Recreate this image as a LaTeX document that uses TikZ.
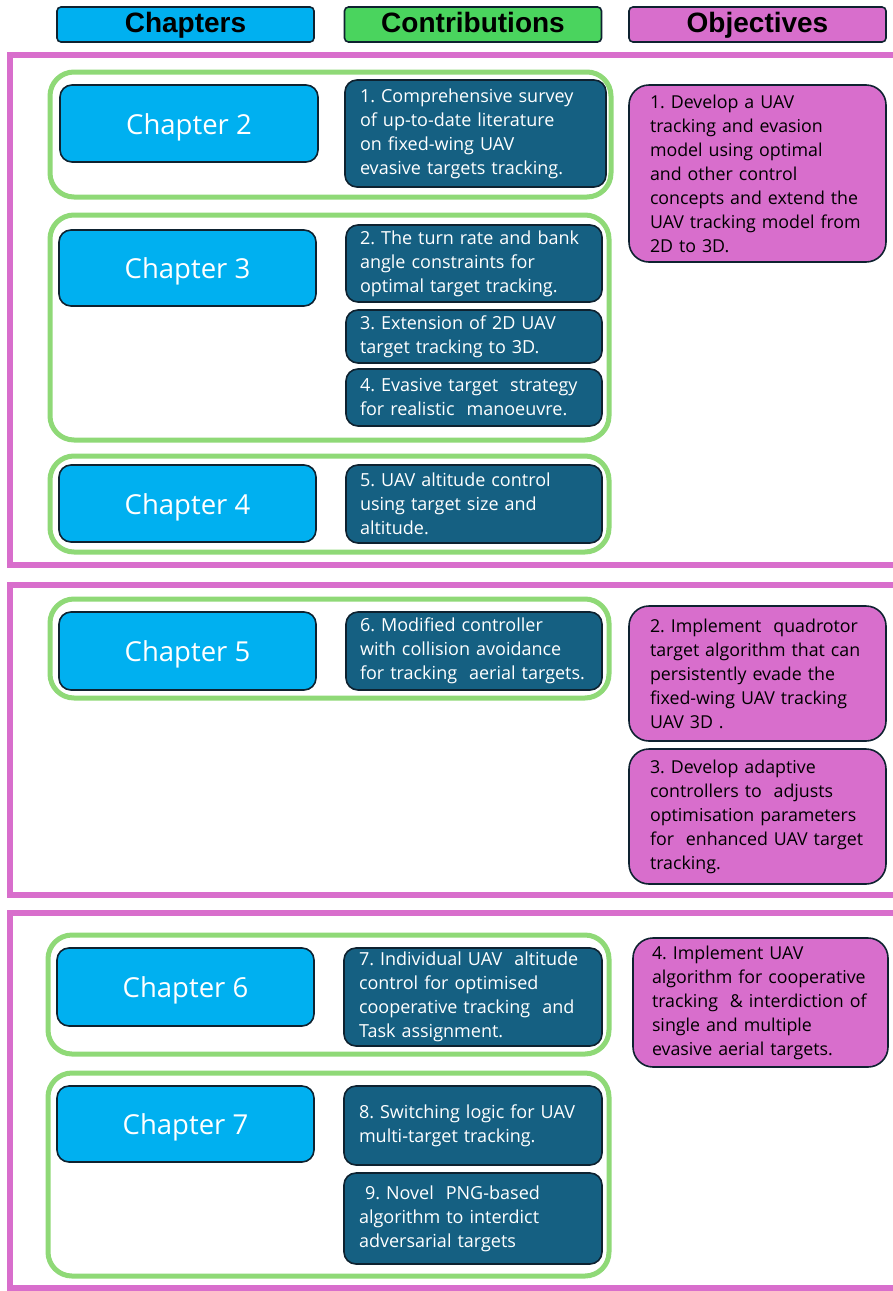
\documentclass[tikz,border=0pt]{standalone}
\usepackage{fontspec}
\setmainfont{Open Sans}
\newfontfamily\hdrfont{Liberation Sans}
\frenchspacing
\hyphenpenalty=10000
\exhyphenpenalty=10000
\definecolor{framepink}{HTML}{D86ECC}
\definecolor{grpgreen}{HTML}{8FD977}
\definecolor{chapcyan}{HTML}{00B0F0}
\definecolor{contteal}{HTML}{156082}
\definecolor{hdrgreen}{HTML}{4AD45E}
\definecolor{edgenavy}{HTML}{0E2230}
\tikzset{
  hdr/.style={draw=edgenavy, line width=1.6pt, rounded corners=4pt, inner sep=0pt,
    minimum width=257pt, minimum height=35pt, text height=20pt, text depth=5pt,
    font=\hdrfont\bfseries\fontsize{28}{30}\selectfont, text=black},
  secframe/.style={draw=framepink, line width=5.5pt, inner sep=0pt},
  grp/.style={draw=grpgreen, line width=5pt, rounded corners=24pt, inner sep=0pt},
  chap/.style={draw=edgenavy, line width=1.6pt, fill=chapcyan, rounded corners=12pt,
    inner sep=0pt, minimum width=257pt, minimum height=77pt, text=white,
    text height=21pt, text depth=0pt,
    font=\fontsize{27.5}{30}\selectfont},
  contrib/.style={draw=edgenavy, line width=1.6pt, fill=contteal, rounded corners=12pt,
    inner xsep=15pt, inner ysep=0pt, text width=227pt, align=left, text=white,
    font=\fontsize{18}{24}\selectfont},
  objective/.style={draw=edgenavy, line width=1.6pt, fill=framepink, rounded corners=20pt,
    inner xsep=21pt, inner ysep=0pt, text width=215pt, align=left, text=black,
    font=\fontsize{17.8}{24}\selectfont},
}
\begin{document}
\begin{tikzpicture}[x=1pt,y=-1pt]
\useasboundingbox (0,0) rectangle (893,1291);
\fill[white] (0,0) rectangle (893,1291);

% column headers
\node[hdr, fill=chapcyan] (hchap) at (185.5,24.5) {Chapters};
\node[hdr, fill=hdrgreen] (hcont) at (473,24.5) {Contributions};
\node[hdr, fill=framepink] (hobj) at (757.5,24.5) {Objectives};

% section frames (open to the right edge)
\begin{scope}
\clip (0,0) rectangle (893,1291);
\node[secframe, minimum width=900pt, minimum height=510pt] (sec1) at (460,310) {};
\node[secframe, minimum width=900pt, minimum height=310pt] (sec2) at (460,740) {};
\node[secframe, minimum width=900pt, minimum height=375pt] (sec3) at (460,1100.5) {};
\end{scope}

% chapter groups
\node[grp, minimum width=561pt, minimum height=125pt] (g1) at (330.5,134.5) {};
\node[grp, minimum width=559pt, minimum height=225pt] (g2) at (329.5,327.5) {};
\node[grp, minimum width=559pt, minimum height=96pt] (g3) at (329.5,504) {};
\node[grp, minimum width=559pt, minimum height=99pt] (g4) at (329.5,648.5) {};
\node[grp, minimum width=561pt, minimum height=119pt] (g5) at (328.5,994.5) {};
\node[grp, minimum width=561pt, minimum height=203pt] (g6) at (328.5,1174.5) {};

% chapters
\node[chap, minimum width=258pt] (c2) at (189,123.5) {Chapter 2};
\node[chap, minimum height=76pt] (c3) at (187.5,268) {Chapter 3};
\node[chap] (c4) at (187.5,503.5) {Chapter 4};
\node[chap, minimum height=78pt] (c5) at (187.5,651) {Chapter 5};
\node[chap, minimum height=78pt] (c6) at (185.5,987) {Chapter 6};
\node[chap, minimum height=76pt] (c7) at (185.5,1124) {Chapter 7};

% contributions
\node[contrib, text width=231pt, minimum height=107pt] (k1) at (475.5,133.5)
  {1. Comprehensive survey\\of up-to-date literature\\on fixed-wing UAV\\evasive targets tracking.};
\node[contrib, text width=228pt, inner xsep=14pt, minimum height=77pt] (k2) at (474,263.5)
  {2. The turn rate and bank\\angle constraints for\\optimal target tracking.};
\node[contrib, text width=228pt, inner xsep=14pt, minimum height=53pt] (k3) at (474,336.5)
  {3. Extension of 2D UAV\\target tracking to 3D.};
\node[contrib, text width=228pt, inner xsep=14pt, minimum height=57pt] (k4) at (474,397.5)
  {4. Evasive target\ \ strategy\\for realistic\ \ manoeuvre.};
\node[contrib, text width=228pt, inner xsep=14pt, minimum height=78pt] (k5) at (474,504)
  {5. UAV altitude control\\using target size and\\altitude.};
\node[contrib, text width=228pt, inner xsep=14pt, minimum height=78pt] (k6) at (474,651)
  {6. Modified controller\\with collision avoidance\\\mbox{for tracking\ \ aerial targets.}};
\node[contrib, text width=228pt, minimum height=98pt] (k7) at (473,997)
  {7. Individual UAV\ \ altitude\\control for optimised\\\mbox{cooperative tracking\ \ and}\\Task assignment.};
\node[contrib, text width=228pt, minimum height=79pt] (k8) at (473,1125.5)
  {8. Switching logic for UAV\\multi-target tracking.};
\node[contrib, text width=228pt, minimum height=91pt] (k9) at (473,1218.5)
  {\ 9. Novel\ \ PNG-based\\algorithm to interdict\\adversarial targets};

% objectives
\node[objective, minimum height=177pt] (o1) at (757.5,173.5)
  {1. Develop a UAV\\tracking and evasion\\model using optimal\\and other control\\\mbox{concepts and extend the}\\\mbox{UAV tracking model from}\\2D to 3D.};
\node[objective, minimum height=135pt] (o2) at (757.5,673.5)
  {2. Implement\ \ quadrotor\\\mbox{target algorithm that can}\\persistently evade the\\\mbox{fixed-wing UAV tracking}\\UAV 3D .};
\node[objective, minimum height=135pt] (o3) at (757.5,816.5)
  {3. Develop adaptive\\controllers to\ \ adjusts\\\mbox{optimisation parameters}\\\mbox{for\ \ enhanced UAV target}\\tracking.};
\node[objective, text width=217pt, inner xsep=19pt, minimum height=129pt] (o4) at (760.5,1002.5)
  {4. Implement UAV\\\mbox{algorithm for cooperative}\\\mbox{tracking\ \ \& interdiction of}\\single and multiple\\evasive aerial targets.};
\end{tikzpicture}
\end{document}
